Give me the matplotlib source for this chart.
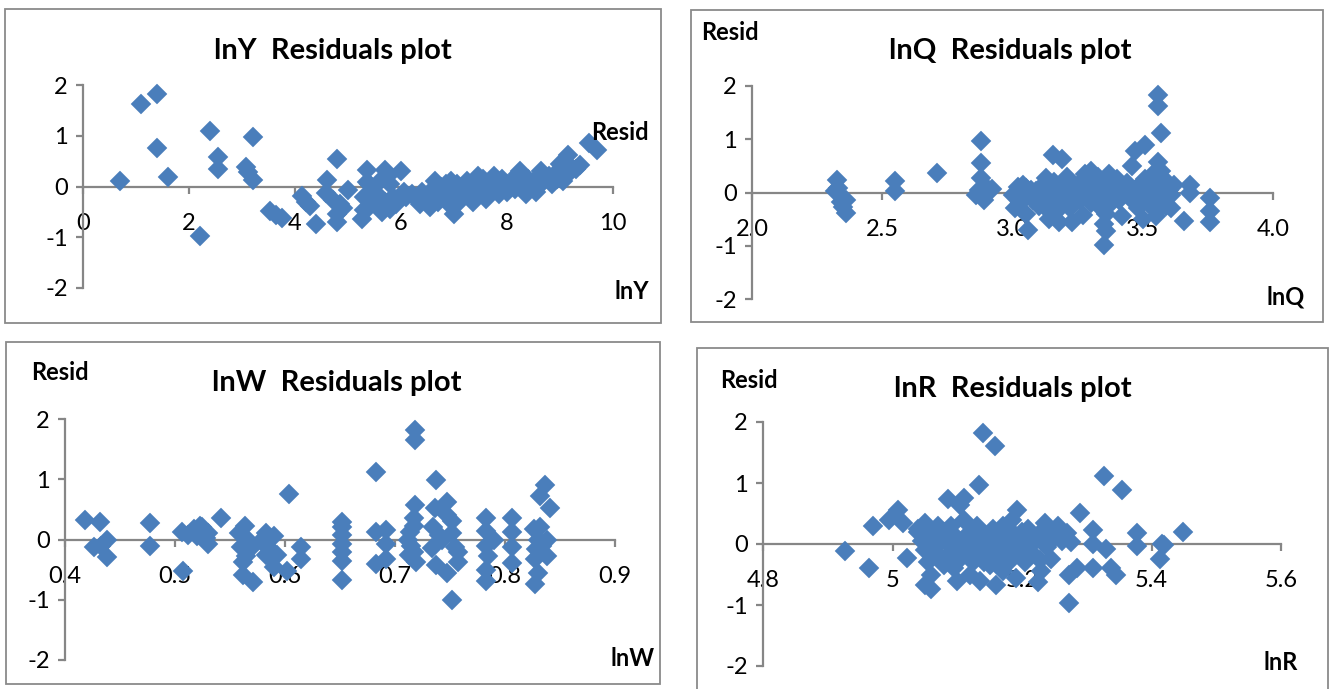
import matplotlib
matplotlib.use('Agg')
import matplotlib.pyplot as plt
from matplotlib.patches import Rectangle

# ---- data (x value, residual) ----
lny_x = [0.70, 1.09, 1.39, 1.39, 1.61, 2.20, 2.40, 2.55, 2.55, 3.08, 3.12, 3.20, 3.21,
         3.53, 3.65, 3.75, 4.13, 4.20, 4.28, 4.40, 4.58, 4.60, 4.72, 4.79, 4.79, 4.85,
         4.91, 4.80, 5.00, 5.26, 5.30, 5.30, 5.35, 5.35,
         5.40, 5.45, 5.50, 5.40, 5.55, 5.60, 5.70, 5.75, 5.70, 5.65, 5.80, 5.85, 5.90,
         5.80, 6.00, 6.05, 6.10,
         6.20, 6.30, 6.35, 6.40, 6.50, 6.55, 6.60, 6.70, 6.75, 6.80, 6.85, 6.90, 7.00,
         7.00, 7.05, 7.10, 6.95, 6.65,
         7.20, 7.25, 7.30, 7.40, 7.50, 7.55, 7.60, 7.65, 7.70, 7.75, 7.80, 7.85, 7.90,
         8.00, 8.00, 7.45, 7.35,
         8.10, 8.15, 8.20, 8.25, 8.30, 8.35, 8.40, 8.50, 8.55, 8.60, 8.65, 8.70, 8.80,
         8.85, 8.90, 8.95,
         9.00, 9.05, 9.10, 9.15, 9.20, 9.30, 9.38, 9.55, 9.70]
lny_resid = [0.11, 1.63, 1.82, 0.75, 0.18, -0.98, 1.10, 0.58, 0.35, 0.39, 0.28, 0.98, 0.13,
             -0.49, -0.56, -0.62, -0.18, -0.30, -0.39, -0.73, -0.13, 0.13, -0.26, 0.54, -0.69, -0.35,
             -0.42, -0.55, -0.07, -0.65, -0.46, -0.20, 0.33, 0.08,
             0.05, -0.10, -0.25, -0.40, -0.15, 0.10, 0.33, 0.20, -0.30, -0.50, -0.45, -0.20, -0.35,
             0.05, 0.30, -0.10, -0.20,
             -0.15, -0.25, -0.35, -0.10, -0.20, -0.40, -0.05, -0.30, 0.00, -0.20, 0.05, -0.35, -0.55,
             -0.15, 0.05, -0.30, 0.10, 0.10,
             -0.05, 0.10, -0.20, 0.00, -0.10, 0.15, -0.25, 0.05, -0.10, 0.20, 0.00, -0.15, 0.15,
             0.05, -0.10, 0.20, -0.30,
             0.10, -0.05, 0.25, 0.30, 0.00, -0.15, 0.15, 0.05, -0.10, 0.20, 0.30, 0.10, 0.20,
             0.05, 0.25, 0.15,
             0.45, 0.10, 0.50, 0.62, 0.30, 0.35, 0.42, 0.85, 0.72]

lnq_x = [2.325, 2.32, 2.33, 2.34, 2.36, 2.36, 2.35, 2.55, 2.55, 2.71,
         2.88, 2.88, 2.88, 2.90, 2.86, 2.89, 2.92, 2.87,
         3.558, 3.558, 3.57, 3.51, 3.47, 3.46, 3.56, 3.155, 3.19, 3.68, 3.68, 3.66,
         3.76, 3.76, 3.76, 3.35, 3.36, 3.27,
         3.00, 3.02, 3.01, 3.03, 3.04, 3.05, 3.06, 3.07, 3.08, 3.10, 3.11, 3.12, 3.13,
         3.14, 3.15, 3.16, 3.17, 3.18, 3.19, 3.20, 3.21, 3.22, 3.23, 3.24, 3.25, 3.26,
         3.28, 3.29, 3.30, 3.30, 3.31, 3.32, 3.33, 3.34, 3.35, 3.35, 3.36, 3.37, 3.38,
         3.39, 3.40, 3.41, 3.42, 3.43, 3.45, 3.47, 3.48, 3.49, 3.50, 3.51, 3.52, 3.53,
         3.54, 3.55, 3.56, 3.57, 3.58, 3.59, 3.60, 3.61, 3.62, 3.57, 3.55,
         3.02, 3.06, 3.09, 3.13, 3.16, 3.21, 3.25, 3.28, 3.32, 3.36, 3.39, 3.44,
         3.48, 3.52, 3.55, 3.59, 3.61, 3.05, 3.18, 3.33]
lnq_resid = [0.24, 0.02, 0.08, -0.17, -0.14, -0.39, -0.27, 0.21, 0.02, 0.36,
             0.97, 0.55, 0.27, 0.10, -0.05, -0.15, 0.07, 0.05,
             1.83, 1.63, 1.11, 0.89, 0.77, 0.49, 0.57, 0.71, 0.62, 0.14, 0.00, -0.54,
             -0.10, -0.35, -0.56, -0.98, -0.72, -0.42,
             -0.05, 0.10, -0.30, -0.20, 0.15, -0.40, -0.70, 0.05, -0.15, -0.25, 0.10, -0.05, 0.28,
             -0.50, -0.20, 0.00, -0.35, -0.55, 0.15, -0.10, 0.30, -0.30, -0.55, 0.05, 0.15, -0.15,
             0.35, 0.00, -0.20, 0.40, 0.20, -0.10, 0.30, -0.30, -0.60, 0.10, -0.40, 0.35, -0.20,
             0.00, 0.25, -0.15, -0.45, 0.10, -0.10, 0.05, -0.30, 0.15, -0.50, 0.25, -0.20, 0.00,
             0.35, -0.35, 0.10, -0.10, 0.25, -0.25, 0.05, -0.05, 0.15, 0.40, -0.45,
             -0.12, -0.02, 0.02, -0.30, 0.20, -0.22, -0.05, 0.15, 0.05, -0.12, 0.10, 0.18,
             -0.05, 0.05, 0.20, 0.12, -0.30, 0.08, -0.30, -0.05]

lnw_x = [0.418, 0.432, 0.426, 0.438, 0.438, 0.433, 0.477, 0.477, 0.507, 0.506, 0.517,
         0.520, 0.525, 0.530, 0.530, 0.520, 0.542, 0.564, 0.565, 0.560, 0.568, 0.562,
         0.565, 0.562, 0.571, 0.583, 0.590, 0.585, 0.593, 0.583, 0.590, 0.602, 0.604,
         0.615, 0.615,
         0.652, 0.652, 0.652, 0.652, 0.652, 0.652, 0.652,
         0.683, 0.683, 0.692, 0.692, 0.692, 0.683,
         0.718, 0.718, 0.718, 0.717, 0.714, 0.712, 0.715, 0.717, 0.713, 0.719, 0.717,
         0.737, 0.736, 0.747, 0.747, 0.752, 0.735, 0.740, 0.743, 0.752, 0.755, 0.757,
         0.734, 0.737, 0.747, 0.757, 0.752,
         0.783, 0.783, 0.790, 0.783, 0.785, 0.783, 0.783,
         0.806, 0.806, 0.806, 0.806,
         0.836, 0.832, 0.841, 0.826, 0.832, 0.838, 0.830, 0.828, 0.834, 0.827, 0.838,
         0.830, 0.827,
         0.512, 0.523, 0.528, 0.558, 0.578, 0.588]
lnw_resid = [0.32, 0.29, -0.12, -0.01, -0.29, -0.10, 0.28, -0.11, -0.53, 0.12, 0.17,
             0.05, 0.20, 0.10, -0.07, 0.13, 0.36, 0.22, 0.03, -0.12, -0.15, -0.37,
             -0.27, -0.59, -0.70, 0.10, 0.05, -0.12, -0.25, -0.26, -0.45, -0.52, 0.75,
             -0.12, -0.32,
             0.29, 0.21, 0.07, -0.07, -0.21, -0.35, -0.67,
             1.12, 0.13, 0.16, -0.07, -0.32, -0.40,
             1.82, 1.65, 0.57, 0.35, 0.13, 0.00, -0.10, -0.20, -0.26, -0.37, 0.22,
             0.98, 0.53, 0.63, 0.40, 0.30, 0.21, 0.08, 0.00, 0.10, -0.12, -0.20,
             -0.14, -0.43, -0.55, -0.38, -1.00,
             0.36, 0.14, 0.00, -0.10, -0.28, -0.50, -0.69,
             0.36, 0.12, -0.12, -0.39,
             0.90, 0.72, 0.53, 0.18, 0.20, 0.00, 0.00, -0.15, -0.10, -0.33, -0.28,
             -0.55, -0.74,
             0.08, 0.22, 0.02, 0.10, -0.02, -0.30]

lnr_x = [4.927, 4.963, 4.970, 4.994, 5.009, 5.016, 5.022, 5.086, 5.104, 5.110, 5.134,
         5.140, 5.158, 5.050, 5.060, 5.040,
         5.192, 5.326, 5.355, 5.290, 5.272, 5.377, 5.377, 5.416, 5.420, 5.413, 5.449,
         5.310, 5.310, 5.330, 5.310, 5.337, 5.345, 5.272, 5.285, 5.275, 5.270, 5.235,
         5.240, 5.225, 5.228, 5.200, 5.180,
         5.040, 5.045, 5.050, 5.050, 5.055, 5.060, 5.060, 5.065, 5.070, 5.070, 5.075,
         5.080, 5.080, 5.085, 5.090, 5.090, 5.095, 5.100, 5.100, 5.105, 5.110, 5.110,
         5.115, 5.120, 5.120, 5.125, 5.130, 5.130, 5.135, 5.140, 5.140, 5.145, 5.150,
         5.150, 5.155, 5.160, 5.160, 5.165, 5.170, 5.170, 5.175, 5.180, 5.180, 5.185,
         5.190, 5.190, 5.200, 5.200, 5.205, 5.210, 5.215, 5.220, 5.230, 5.245, 5.250,
         5.255,
         5.058, 5.068, 5.078, 5.092, 5.102, 5.118, 5.128, 5.142, 5.152, 5.168, 5.178,
         5.195, 5.212, 5.225, 5.238, 5.262]
lnr_resid = [-0.12, -0.39, 0.29, 0.39, 0.56, 0.35, -0.23, 0.73, 0.64, 0.76, 0.96,
             1.82, 1.61, -0.67, -0.74, 0.20,
             0.56, 1.11, 0.89, 0.51, -0.97, 0.18, -0.03, 0.00, -0.02, -0.25, 0.19,
             0.23, 0.00, -0.08, -0.40, -0.39, -0.50, -0.50, -0.40, 0.03, 0.18, 0.35,
             0.16, -0.63, -0.26, 0.20, 0.25,
             0.25, 0.05, -0.10, 0.35, -0.30, 0.15, -0.50, -0.05, 0.30, -0.20, 0.05,
             -0.35, 0.20, 0.00, -0.15, 0.30, -0.40, 0.10, -0.60, -0.25, 0.00, 0.40,
             -0.10, 0.20, -0.50, -0.30, 0.05, 0.30, -0.60, -0.15, 0.15, 0.00, -0.35,
             -0.05, 0.25, -0.20, -0.68, 0.10, -0.45, 0.30, -0.10, 0.05, -0.30, 0.40,
             -0.15, -0.55, 0.10, -0.05, -0.30, 0.25, -0.15, 0.05, -0.45, -0.25, 0.10,
             0.30,
             -0.15, 0.10, -0.25, 0.15, -0.10, -0.20, 0.12, -0.30, 0.08, -0.25, 0.15,
             -0.10, 0.00, 0.15, -0.05, 0.05]

W, H = 1330, 689
BLUE = '#4A7EBB'
GRAY = '#868686'

plt.rcParams['font.family'] = ['Lato', 'DejaVu Sans']
plt.rcParams['axes.unicode_minus'] = False

fig = plt.figure(figsize=(W / 100, H / 100), dpi=100)


def fx(x):
    return x / W


def fy(y):
    return 1 - y / H


def panel(box, axbox, xlim, xticks, xlabels, xs, ys, title, tpos, rpos, lpos, name):
    x0, y0, x1, y1 = box
    fig.patches.append(Rectangle((fx(x0), fy(y1)), (x1 - x0) / W, (y1 - y0) / H,
                                 transform=fig.transFigure, fill=False,
                                 ec='#8a8a8a', lw=1.3))
    a0, b0, a1, b1 = axbox
    ax = fig.add_axes([fx(a0), fy(b1), (a1 - a0) / W, (b1 - b0) / H])
    ax.patch.set_alpha(0)
    ax.set_xlim(xlim)
    ax.set_ylim(-2, 2)
    ax.spines['top'].set_visible(False)
    ax.spines['right'].set_visible(False)
    ax.spines['bottom'].set_position(('data', 0))
    for s in ['left', 'bottom']:
        ax.spines[s].set_color(GRAY)
        ax.spines[s].set_linewidth(1.6)
    ax.set_yticks([-2, -1, 0, 1, 2])
    ax.set_yticklabels(['-2', '-1', '0', '1', '2'])
    ax.set_xticks(xticks)
    ax.set_xticklabels(xlabels)
    ax.tick_params(axis='both', direction='out', length=5, width=1.6, color=GRAY,
                   labelsize=17, labelcolor='black')
    ax.tick_params(axis='x', pad=14)
    ax.tick_params(axis='y', pad=6)
    ax.plot(xs, ys, 'D', color=BLUE, ms=10.5, mec=BLUE, mew=0.3, clip_on=False, zorder=3)
    fig.text(fx(tpos[0]), fy(tpos[1]), title, ha='center', va='center',
             fontsize=21, fontweight='bold')
    fig.text(fx(rpos[0]), fy(rpos[1]), 'Resid', ha='center', va='center',
             fontsize=17, fontweight='bold')
    fig.text(fx(lpos[0]), fy(lpos[1]), name, ha='center', va='center',
             fontsize=17, fontweight='bold')
    return ax


panel((5, 9, 661, 323), (83, 85, 613, 288), (0, 10), [0, 2, 4, 6, 8, 10],
      ['0', '2', '4', '6', '8', '10'], lny_x, lny_resid,
      'lnY  Residuals plot', (333, 51), (620, 133), (632, 292), 'lnY')

panel((691, 10, 1323, 322), (752, 86, 1273, 299), (2, 4), [2, 2.5, 3, 3.5, 4],
      ['2.0', '2.5', '3.0', '3.5', '4.0'], lnq_x, lnq_resid,
      'lnQ  Residuals plot', (1010, 51), (730, 32), (1286, 297), 'lnQ')

panel((6, 342, 660, 684), (65, 419, 615, 660), (0.4, 0.9), [0.4, 0.5, 0.6, 0.7, 0.8, 0.9],
      ['0.4', '0.5', '0.6', '0.7', '0.8', '0.9'], lnw_x, lnw_resid,
      'lnW  Residuals plot', (337, 383), (60, 373), (633, 658), 'lnW')

panel((697, 348, 1328, 700), (763, 422, 1281, 666), (4.8, 5.6), [4.8, 5.0, 5.2, 5.4, 5.6],
      ['4.8', '5', '5.2', '5.4', '5.6'], lnr_x, lnr_resid,
      'lnR  Residuals plot', (1013, 389), (749, 381), (1281, 662), 'lnR')

fig.savefig('out.png', dpi=100)
